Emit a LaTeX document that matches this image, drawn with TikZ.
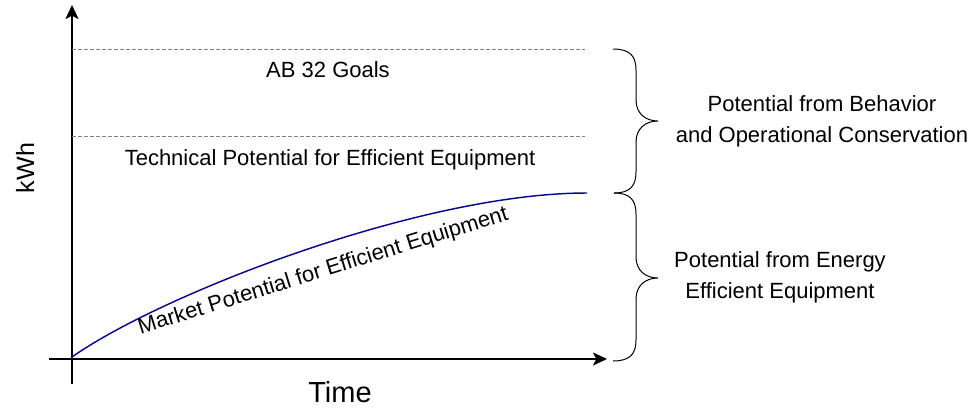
\documentclass[tikz,border=0pt]{standalone}
\usepackage{fontspec}
\setmainfont{Liberation Sans}
\usetikzlibrary{arrows.meta}
\definecolor{curveblue}{RGB}{10,10,140}
\definecolor{dashgray}{RGB}{128,128,128}
\begin{document}
\begin{tikzpicture}[x=0.75pt,y=-0.75pt,
  axis/.style={line width=1.5pt,-{Stealth[length=10.5pt,width=9.75pt,inset=2.5pt]}},
  guide/.style={draw=dashgray,line width=0.75pt,dash pattern=on 3pt off 1.5pt},
  brace/.style={draw=black,line width=0.75pt},
  lbl/.style={inner sep=0pt,font=\fontsize{16.5}{23.25}\selectfont,align=center},
  market/.style={draw=curveblue,line width=1.1pt}]
\useasboundingbox (0,0) rectangle (976,408);
% axes
\coordinate (ybot) at (72,384);
\coordinate (ytop) at (72,5);
\coordinate (xleft) at (49,359);
\coordinate (xright) at (607,359);
\draw[axis] (ybot) -- (ytop);
\draw[axis] (xleft) -- (xright);
% dashed guide lines
\coordinate (g1a) at (72,49);
\coordinate (g1b) at (585,49);
\coordinate (g2a) at (72,136);
\coordinate (g2b) at (585,136);
\draw[guide] (g1a) -- (g1b);
\draw[guide] (g2a) -- (g2b);
% market curve
\coordinate (c0) at (72,357);
\coordinate (c1) at (587,193);
\draw[market] (c0) .. controls (160,295) and (420,193) .. (c1);
% braces
\coordinate (b1top) at (613,49);
\coordinate (b1tip) at (658,121);
\coordinate (b1bot) at (614,193);
\draw[brace] (b1top) .. controls (630,49) and (636,56) .. (636,70)
  -- (636,100) .. controls (636,113) and (645,121) .. (b1tip)
  .. controls (645,121) and (636,129) .. (636,142)
  -- (636,172) .. controls (636,186) and (630,193) .. (b1bot);
\coordinate (b2top) at (614,193);
\coordinate (b2tip) at (658,278);
\coordinate (b2bot) at (613,361);
\draw[brace] (b2top) .. controls (630,193) and (636,200) .. (636,214)
  -- (636,257) .. controls (636,270) and (645,278) .. (b2tip)
  .. controls (645,278) and (636,286) .. (636,299)
  -- (636,340) .. controls (636,354) and (630,361) .. (b2bot);
% labels
\node[lbl] (ab) at (328,70) {AB 32 Goals};
\node[lbl] (tech) at (330,160) {Technical Potential for Efficient Equipment};
\node[lbl,anchor=base,rotate=17.3] (mkt) at (325,277) {Market Potential for Efficient Equipment};
\node[lbl,font=\fontsize{18.75}{22}\selectfont,rotate=90] (kwh) at (25,168) {kWh};
\node[lbl,font=\fontsize{21.75}{26}\selectfont] (time) at (340,392) {Time};
\node[lbl] (behav) at (822,121) {Potential from Behavior\\and Operational Conservation};
\node[lbl] (equip) at (780,277) {Potential from Energy\\Efficient Equipment};
\end{tikzpicture}
\end{document}
